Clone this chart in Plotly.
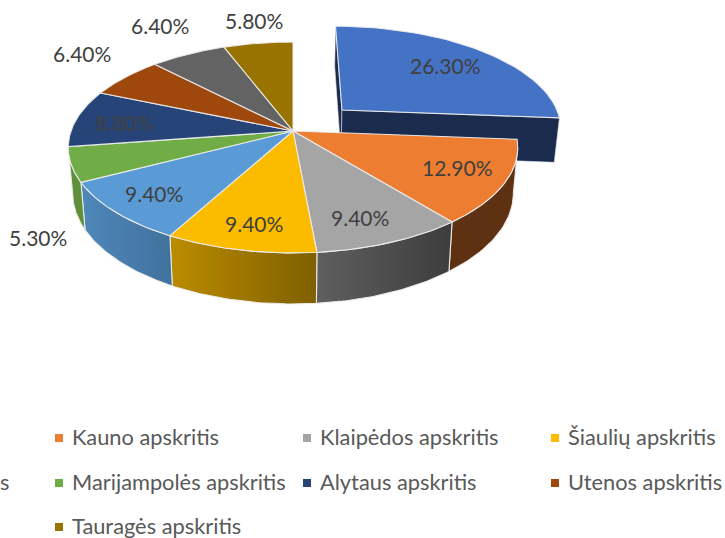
import math
import plotly.graph_objects as go

categories = ["Vilniaus apskritis", "Kauno apskritis", "Klaipėdos apskritis", "Šiaulių apskritis",
              "Panevėžio apskritis", "Marijampolės apskritis", "Alytaus apskritis", "Utenos apskritis",
              "Telšių apskritis", "Tauragės apskritis"]
values = [26.3, 12.9, 9.4, 9.4, 9.4, 5.3, 8.8, 6.4, 6.4, 5.8]
top_colors = ["#4472c4", "#ed7d31", "#a5a5a5", "#fbbc00", "#5b9bd5", "#70ad47", "#264478", "#9e480e", "#636363", "#997300"]
wall_left = ["#1a2b4e", "#5e3113", "#5f5f5f", "#bb8c00", "#4f88bb", "#5f8f3a", "#1a2b4e", "#5e3113", "#444444", "#6b5000"]
wall_right = ["#1a2b4e", "#5e3113", "#3d3d3d", "#7f6000", "#41719c", "#5f8f3a", "#1a2b4e", "#5e3113", "#444444", "#6b5000"]

# projection of the tilted disc onto the page (pixels)
CX, CY, SX, SY, K, THICK, DROP = 293, 131, 222, 102.9, 0.156, 46, 1.02
EXPLODE = {0: 0.31}
label_xy = [(445, 65), (457, 167), (360, 217), (254, 223), (154, 193), (38, 237), (124, 122), (82, 53), (160, 25), (254, 20)]
legend_cols = [None, 59, 307, 555]
legend_rows = [438, 483, 527]
TEXT_DY = -2
# (category index, column, row); the first column runs off the left page edge in the reference,
# so only the tail of the Panevėžio entry is visible there.
legend_slots = [(1, 1, 0), (2, 2, 0), (3, 3, 0), (5, 1, 1), (6, 2, 1), (7, 3, 1), (9, 1, 2)]
LABEL_FONT, LEGEND_FONT = 21, 21.8
FONT = "Lato, Carlito, Calibri, sans-serif"


def project(u, v, bottom=False):
    w = 1 + K * v
    if bottom:
        return CX + SX * u / (w * DROP), CY + (-SY * v + THICK) / (w * DROP)
    return CX + SX * u / w, CY - SY * v / w


def rim(a0, a1, du=0.0, dv=0.0, n=40):
    pts = []
    for i in range(n + 1):
        t = math.radians(a0 + (a1 - a0) * i / n)
        pts.append((du + math.sin(t), dv + math.cos(t)))
    return pts


fig = go.Figure()
EDGE = dict(color="rgba(236,236,236,0.95)", width=1.1)


def poly(pts, fill=None, grad=None, line=None):
    xs = [p[0] for p in pts] + [pts[0][0]]
    ys = [p[1] for p in pts] + [pts[0][1]]
    kw = dict(x=xs, y=ys, mode="lines", fill="toself", hoverinfo="skip", showlegend=False,
              line=line or dict(width=0, color="rgba(0,0,0,0)"))
    if grad:
        kw["fillgradient"] = dict(type="horizontal", colorscale=[[0, grad[0]], [1, grad[1]]])
    else:
        kw["fillcolor"] = fill
    fig.add_trace(go.Scatter(**kw))


angles = []
acc = 0.0
total = sum(values)
for v in values:
    angles.append((acc / total * 360, (acc + v) / total * 360))
    acc += v

# exploded slice first, with its two cut faces
a0, a1 = angles[0]
mid = math.radians((a0 + a1) / 2)
du, dv = EXPLODE[0] * math.sin(mid), EXPLODE[0] * math.cos(mid)
for ang in (a0, a1):
    t = math.radians(ang)
    ou, ov = du + math.sin(t), dv + math.cos(t)
    poly([project(du, dv), project(ou, ov), project(ou, ov, True), project(du, dv, True)],
         fill=wall_left[0], line=dict(color="rgba(230,230,235,0.7)", width=0.8))
poly([project(du, dv)] + [project(*p) for p in rim(a0, a1, du, dv)], fill=top_colors[0], line=EDGE)

# outer walls of the remaining slices, clamped to the visible front of the rim
lo, hi = math.degrees(math.acos(-K)), 360 - math.degrees(math.acos(-K))
for i in range(1, len(values)):
    a0, a1 = angles[i]
    s, e = max(a0, lo), min(a1, hi)
    if s >= e:
        continue
    r = rim(s, e)
    pts = [project(*p) for p in r] + [project(*p, True) for p in reversed(r)]
    poly(pts, grad=(wall_left[i], wall_right[i]) if wall_left[i] != wall_right[i] else None,
         fill=wall_left[i], line=EDGE)

# top faces
for i in range(1, len(values)):
    a0, a1 = angles[i]
    poly([project(0, 0)] + [project(*p) for p in rim(a0, a1)], fill=top_colors[i], line=EDGE)

annotations = []
for v, (x, y) in zip(values, label_xy):
    annotations.append(dict(x=x, y=y, text=f"{v:.2f}%", showarrow=False, xanchor="center", yanchor="middle",
                            font=dict(family=FONT, size=LABEL_FONT, color="#404040")))

# legend
mx, my, mc = [], [], []
for i, c, r in legend_slots:
    x, y = legend_cols[c], legend_rows[r]
    mx.append(x); my.append(y); mc.append(top_colors[i])
    annotations.append(dict(x=x + 11, y=y + TEXT_DY, text=categories[i], showarrow=False, xanchor="left",
                            yanchor="middle", font=dict(family=FONT, size=LEGEND_FONT, color="#595959")))
# visible tail of the cropped Panevėžio entry
annotations.append(dict(x=4, y=legend_rows[1] + TEXT_DY, text=categories[4][-1], showarrow=False, xanchor="center",
                        yanchor="middle", font=dict(family=FONT, size=LEGEND_FONT, color="#595959")))
fig.add_trace(go.Scatter(x=mx, y=my, mode="markers", hoverinfo="skip", showlegend=False,
                         marker=dict(symbol="square", size=8, color=mc, line=dict(width=0))))

fig.update_layout(width=725, height=538, margin=dict(l=0, r=0, t=0, b=0), autosize=False,
                  paper_bgcolor="white", plot_bgcolor="white", annotations=annotations,
                  xaxis=dict(range=[0, 725], visible=False, fixedrange=True),
                  yaxis=dict(range=[538, 0], visible=False, fixedrange=True))
fig.write_html("out.html", config={"displayModeBar": False},
               post_script="document.body.style.margin='0';document.body.style.overflow='hidden';")
